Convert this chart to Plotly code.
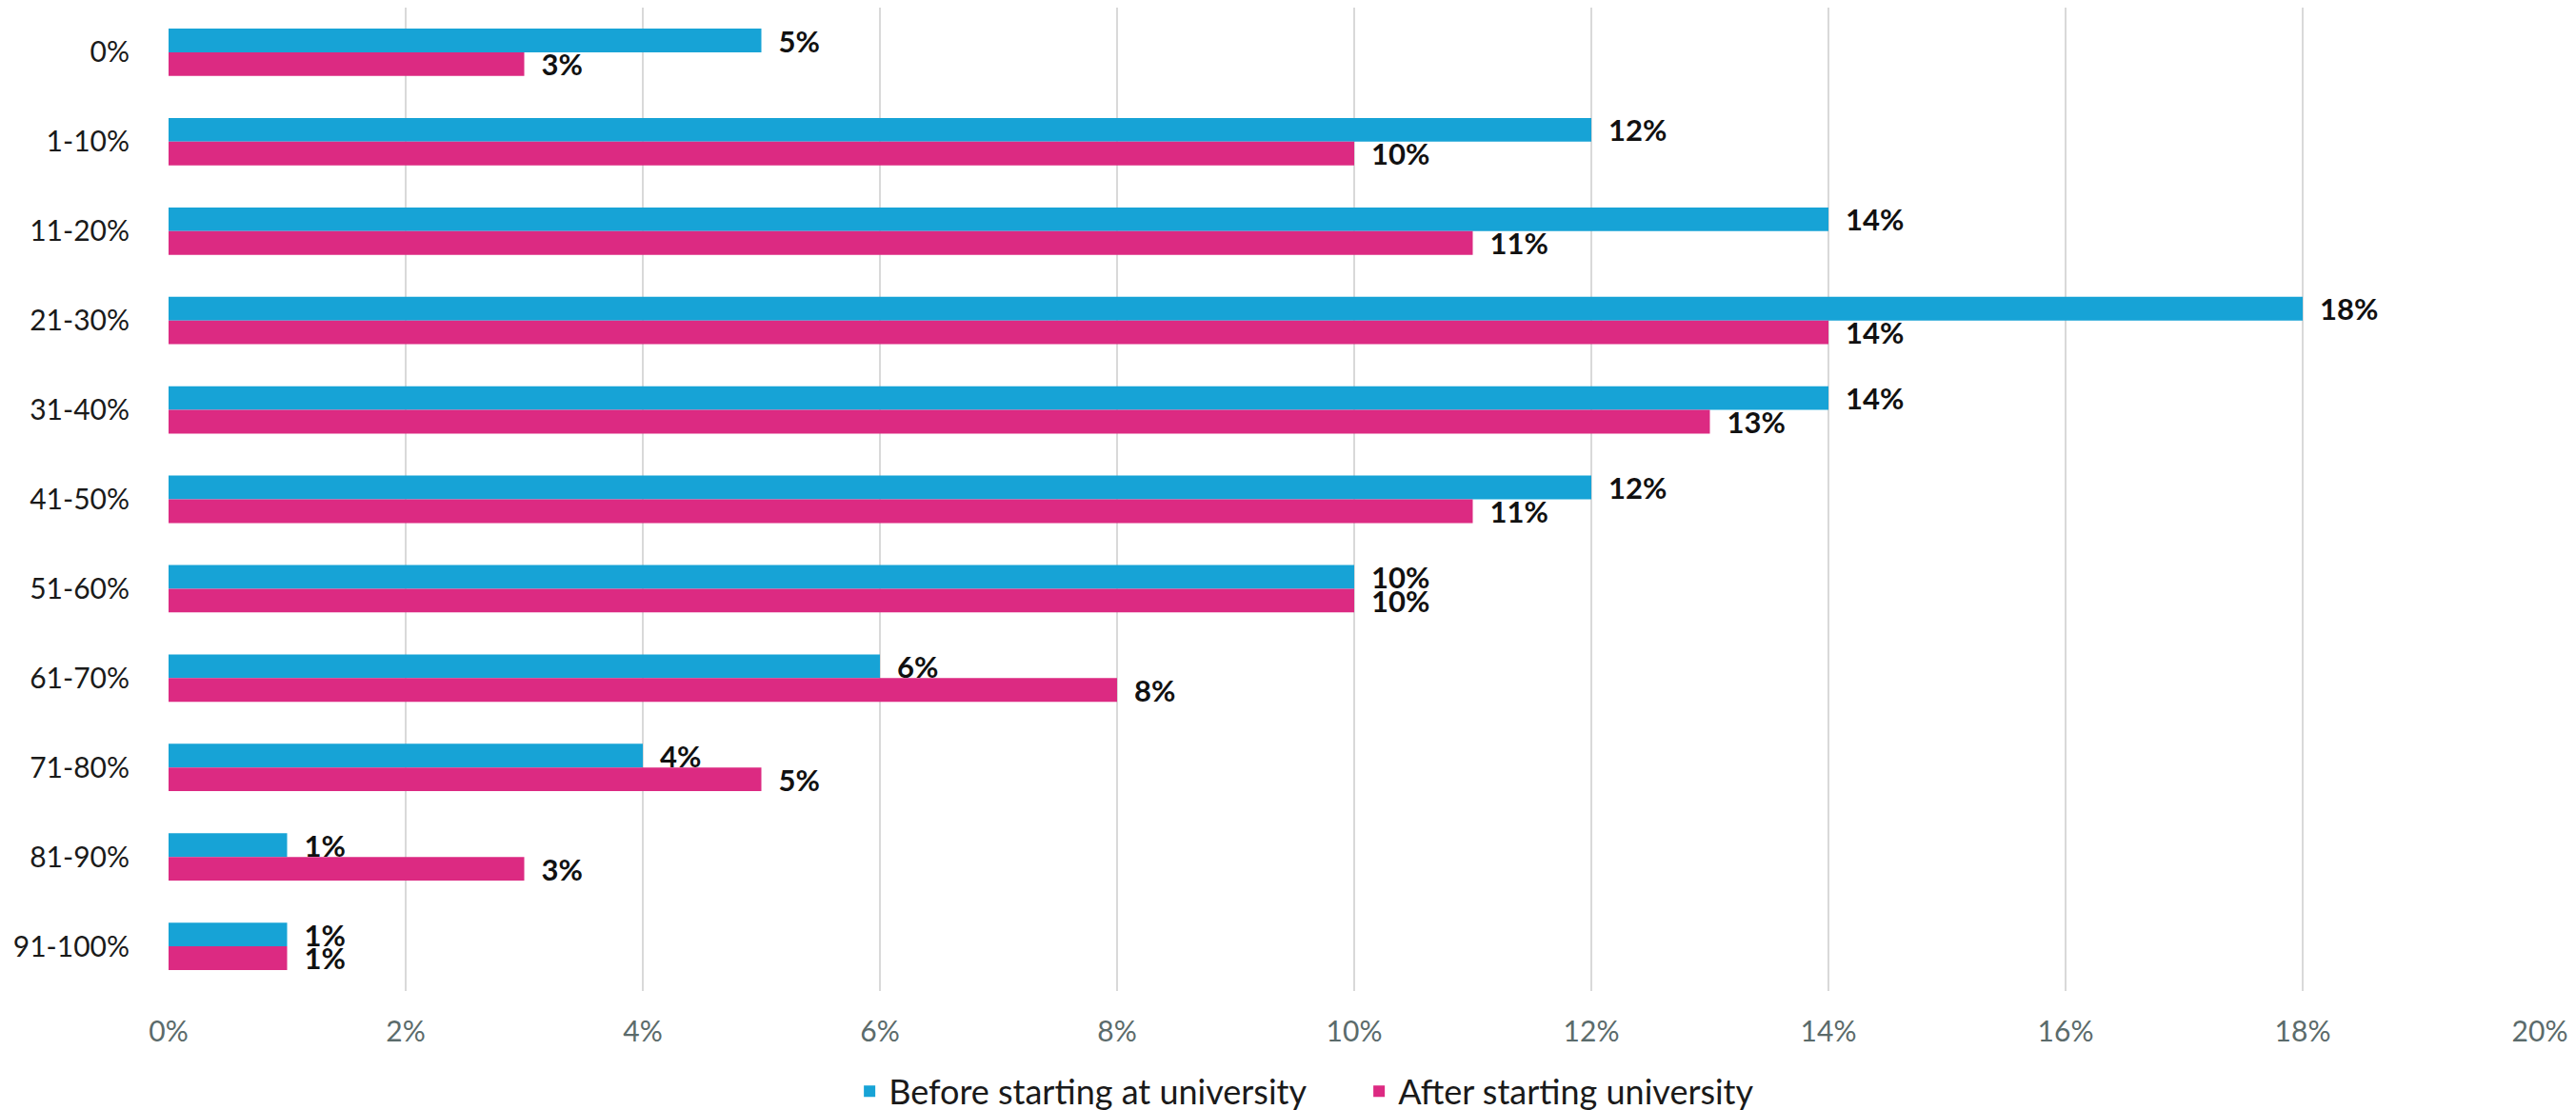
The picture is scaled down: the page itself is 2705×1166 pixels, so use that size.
import plotly.graph_objects as go

categories = ["0%", "1-10%", "11-20%", "21-30%", "31-40%", "41-50%", "51-60%",
              "61-70%", "71-80%", "81-90%", "91-100%"]
before_vals = [5, 12, 14, 18, 14, 12, 10, 6, 4, 1, 1]
after_vals = [3, 10, 11, 14, 13, 11, 10, 8, 5, 3, 1]
series_names = ["Before starting at university", "After starting university"]
x_ticks = list(range(0, 21, 2))

FONT = "Lato"
BLUE = "#17a3d6"
PINK = "#dc2a82"

fig = go.Figure()
for name, vals, col in [(series_names[0], before_vals, BLUE),
                        (series_names[1], after_vals, PINK)]:
    fig.add_trace(go.Bar(
        y=categories, x=vals, name=name, orientation="h",
        marker=dict(color=col, line=dict(width=0)),
        text=[f"  {v}%" for v in vals], textposition="outside",
        constraintext="none",
        textfont=dict(family=FONT, size=31, color="#111111", weight="bold"),
        cliponaxis=False,
    ))

fig.update_layout(
    width=2705, height=1166,
    margin=dict(l=169, r=46, t=0, b=133, autoexpand=False),
    barmode="group", bargap=0.47, bargroupgap=0,
    plot_bgcolor="white", paper_bgcolor="white",
    font=dict(family=FONT, size=30, color="#1a1a1a"),
    legend=dict(orientation="h", x=0.525, xref="container", xanchor="center",
                y=-0.102, yanchor="middle", entrywidth=490,
                font=dict(family=FONT, size=36, color="#1a1a1a"),
                traceorder="normal"),
    xaxis=dict(range=[0, 20], autorange=False, tickvals=x_ticks,
               ticktext=[f"{t}%" for t in x_ticks],
               showgrid=True, gridcolor="#d9d9d9", gridwidth=2,
               zeroline=False, showline=False,
               tickfont=dict(family=FONT, size=30, color="#5b6b6b"),
               ticks="outside", ticklen=16, tickcolor="rgba(0,0,0,0)"),
    yaxis=dict(autorange="reversed", showgrid=False, showline=False,
               tickfont=dict(family=FONT, size=30, color="#1a1a1a"),
               ticks="outside", ticklen=34, tickcolor="rgba(0,0,0,0)"),
)

fig.write_html("out.html")
